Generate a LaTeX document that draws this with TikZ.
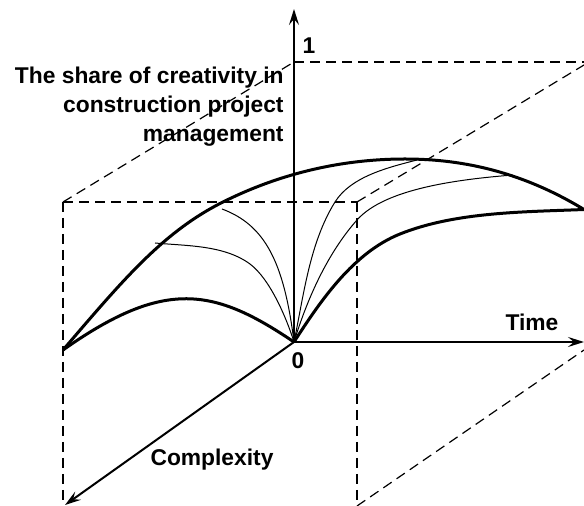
\documentclass[tikz,border=0pt]{standalone}
\usepackage{fontspec}
\setmainfont{Liberation Sans}
\usetikzlibrary{arrows.meta}

\begin{document}
\begin{tikzpicture}[
    x=0.5pt, y=-0.5pt,
    axis/.style={line width=1pt, -{Stealth[length=8pt, width=5pt, inset=3pt]}},
    guide/.style={dashed, dash pattern=on 5pt off 3pt, line width=0.6pt},
    bound/.style={line width=1.5pt, line join=round},
    trend/.style={line width=0.5pt},
    lbl/.style={font=\fontsize{11.4}{14.5}\selectfont\bfseries, inner sep=0pt}
  ]
  \useasboundingbox (0,0) rectangle (584,506);

  % axes
  \coordinate (O) at (294,342);
  \coordinate (top) at (294,9);
  \coordinate (timeend) at (584,342);
  \coordinate (cplxend) at (65,505);
  \draw[axis] (O) -- (top);
  \draw[axis] (O) -- (timeend);
  \draw[axis] (O) -- (cplxend);

  % dashed frame
  \coordinate (one) at (294,62);
  \coordinate (fl) at (63,202);
  \coordinate (fr) at (357,202);
  \draw[guide] (one) -- (584,62);
  \draw[guide] (fl) -- (one);
  \draw[guide] (fl) -- (fr);
  \draw[guide] (fl) -- (63,500);
  \draw[guide] (fr) -- (357,506);
  \draw[guide] (fr) -- (584,65);
  \draw[guide] (357,506) -- (584,350);

  % upper and lower bounds
  \coordinate (L) at (63,350);
  \coordinate (E) at (584,209.5);
  \draw[bound] (L) .. controls (123,280) and (163,232) .. (223,202)
    .. controls (283,172) and (345,159) .. (405,159)
    .. controls (465,159) and (524,173) .. (E);
  \draw[bound] (L) .. controls (165,278) and (214,288) .. (O);
  \draw[bound] (O) .. controls (321,300) and (353.6,252.6) .. (400,234)
    .. controls (455.7,211.7) and (524,212) .. (E);

  % inner curves
  \draw[trend] (155,243) .. controls (187,246) and (224,245) .. (250,264)
    .. controls (270,279) and (286.5,318) .. (O);
  \draw[trend] (222,209) .. controls (265,225) and (284,262) .. (O);
  \draw[trend] (O) .. controls (303.8,295) and (309.6,242.8) .. (335,202)
    .. controls (351,176.5) and (388,167.5) .. (417,160);
  \draw[trend] (O) .. controls (307.2,299) and (327.2,253.7) .. (357,220)
    .. controls (384.8,188.6) and (458,179.4) .. (513,175);

  % labels
  \node[lbl, align=right, anchor=east] (share) at (284,107)
    {The share of creativity in\\construction project\\management};
  \node[lbl] (onelbl) at (309,46) {1};
  \node[lbl] (zero) at (298,361) {0};
  \node[lbl] (time) at (532,322) {Time};
  \node[lbl] (cplx) at (212,460) {Complexity};
\end{tikzpicture}
\end{document}
